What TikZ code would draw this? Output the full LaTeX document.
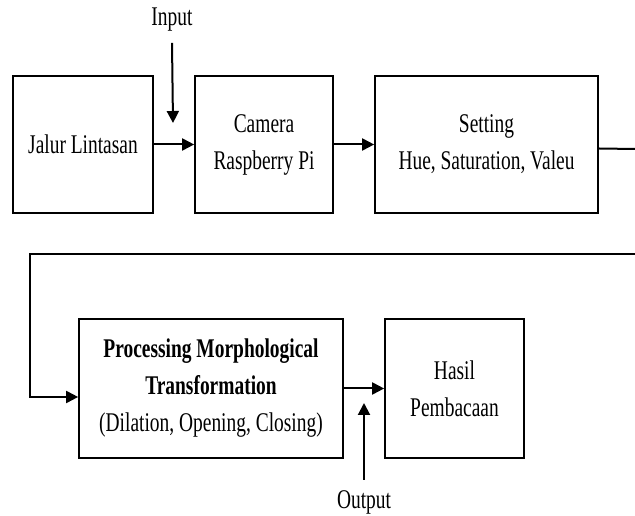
\documentclass[tikz,border=0pt]{standalone}
\usepackage{fontspec}
\setmainfont{Liberation Serif}[FakeStretch=0.72]
\usetikzlibrary{arrows.meta}
\begin{document}
\begin{tikzpicture}[x=1pt,y=1pt,
  blok/.style={shape=rectangle,draw=black,line width=1.7pt,align=center,inner sep=0pt,
    minimum height=137pt,font=\fontsize{27}{37}\selectfont},
  teks/.style={inner sep=0pt,font=\fontsize{27}{30}\selectfont},
  garis/.style={line width=2pt},
  arr/.style={line width=2pt,-{Triangle[length=12pt,width=12pt]}}]
\useasboundingbox (0,0) rectangle (635,516);
\node (jalur) at (83,371.5) [blok,minimum width=140pt] {Jalur Lintasan};
\node (kamera) at (264,371.5) [blok,minimum width=138pt] {Camera\\Raspberry Pi};
\node (setting) at (486.5,371.5) [blok,minimum width=223pt] {Setting\\Hue, Saturation, Valeu};
\node (proses) at (211,127.5) [blok,minimum width=264pt,minimum height=139pt] {\textbf{Processing Morphological}\\\textbf{Transformation}\\(Dilation, Opening, Closing)};
\node (hasil) at (454.5,127.5) [blok,minimum width=139pt,minimum height=139pt] {Hasil\\Pembacaan};
\node (input) at (172,496) [teks] {Input};
\node (output) at (364,14) [teks] {Output};
\coordinate (inB) at (173,393);
\coordinate (outB) at (364,113);
\coordinate (potA) at (635,367);
\coordinate (potB) at (635,262);
\coordinate (belok) at (30,262);
\draw[arr] (jalur) -- (kamera);
\draw[arr] (kamera) -- (setting);
\draw[arr] (proses) -- (hasil);
\draw[arr] ([yshift=-11pt]input.south) -- (inB);
\draw[arr] ([yshift=10pt]output.north) -- (outB);
\draw[garis] ([yshift=-4pt]setting.east) -- (potA);
\draw[arr] (potB) -- (belok) |- ([yshift=-8.5pt]proses.west);
\end{tikzpicture}
\end{document}
